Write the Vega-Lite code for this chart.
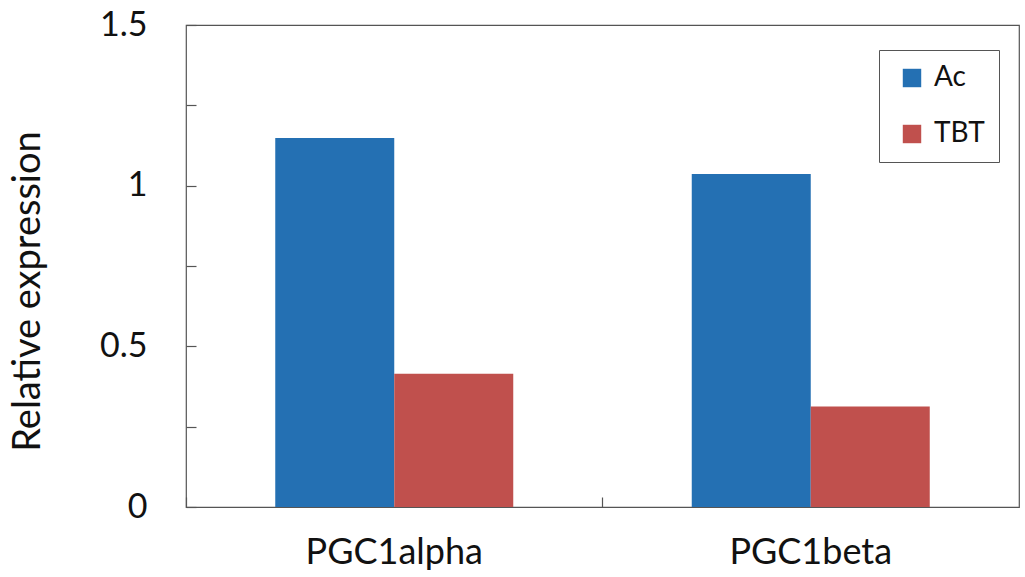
{
  "$schema": "https://vega.github.io/schema/vega-lite/v6.json",
  "width": 833,
  "height": 482,
  "autosize": {"type": "none"},
  "padding": {"left": 186, "top": 25, "right": 6, "bottom": 70},
  "background": "white",
  "config": {
    "font": "Lato",
    "view": {"stroke": "#555555", "strokeWidth": 1.2},
    "axis": {"grid": false, "domain": false, "tickColor": "#555555", "tickWidth": 1.2, "labelColor": "#111111", "titleColor": "#111111", "labelFont": "Lato", "titleFont": "Lato", "titleFontWeight": "normal"}
  },
  "data": {
    "values": [
      {"gene": "PGC1alpha", "group": "Ac", "expression": 1.148},
      {"gene": "PGC1alpha", "group": "TBT", "expression": 0.415},
      {"gene": "PGC1beta", "group": "Ac", "expression": 1.036},
      {"gene": "PGC1beta", "group": "TBT", "expression": 0.313}
    ]
  },
  "mark": {"type": "bar"},
  "encoding": {
    "x": {
      "field": "gene",
      "type": "nominal",
      "sort": ["PGC1alpha", "PGC1beta"],
      "scale": {"paddingInner": 0, "paddingOuter": 0},
      "axis": {
        "title": null,
        "labelAngle": 0,
        "labelFontSize": 36,
        "labelBaseline": "top",
        "bandPosition": 0,
        "tickSize": -10,
        "labelPadding": 38
      }
    },
    "xOffset": {
      "field": "group",
      "type": "nominal",
      "sort": ["Ac", "TBT"],
      "scale": {"paddingInner": 0, "paddingOuter": 0.75}
    },
    "y": {
      "field": "expression",
      "type": "quantitative",
      "scale": {"domain": [0, 1.5], "nice": false},
      "axis": {
        "title": "Relative expression",
        "titleFontSize": 38,
        "titleAngle": -90,
        "titleX": -158,
        "titleY": 266,
        "titleAlign": "center",
        "titleBaseline": "middle",
        "values": [0, 0.25, 0.5, 0.75, 1, 1.25, 1.5],
        "format": "~g",
        "labelExpr": "datum.value % 0.5 === 0 ? datum.label : ''",
        "labelFontSize": 34,
        "tickSize": -10,
        "labelPadding": 49
      }
    },
    "color": {
      "field": "group",
      "type": "nominal",
      "sort": ["Ac", "TBT"],
      "scale": {"domain": ["Ac", "TBT"], "range": ["#2470b3", "#c0504d"]},
      "legend": {
        "title": null,
        "orient": "none",
        "legendX": 693,
        "legendY": 25,
        "strokeColor": "#555555",
        "fillColor": "white",
        "padding": 14,
        "symbolOffset": 5,
        "symbolType": "square",
        "symbolSize": 340,
        "symbolStrokeWidth": 0,
        "labelFontSize": 28,
        "labelColor": "#111111",
        "labelOffset": 8,
        "rowPadding": 28
      }
    }
  }
}
